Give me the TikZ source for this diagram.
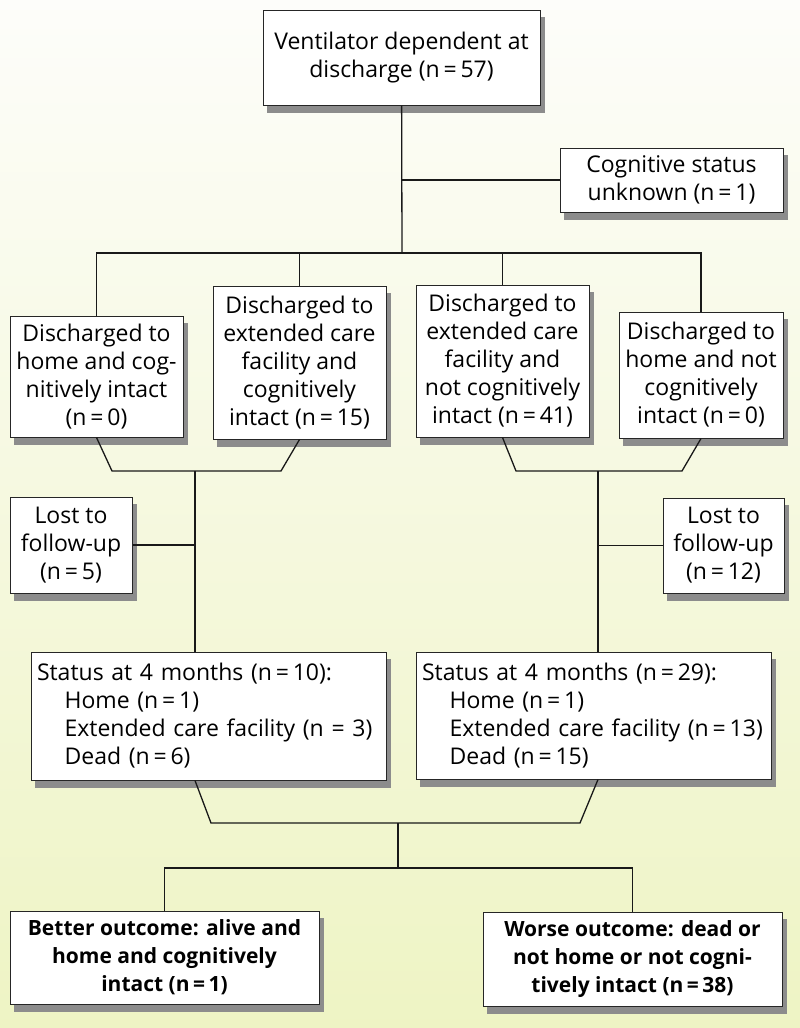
\documentclass[tikz,border=0pt]{standalone}
\usepackage{fontspec}
\setmainfont{Open Sans}
\usepackage{tikz}
\usetikzlibrary{calc}
\pgfdeclarelayer{bg}
\pgfdeclarelayer{shadow}
\pgfsetlayers{bg,shadow,main}
\definecolor{bgtop}{RGB}{253,253,250}
\definecolor{bgmid}{RGB}{248,250,230}
\definecolor{bgbot}{RGB}{238,244,196}
\tikzstyle{box}=[rectangle, draw=black!85, line width=1pt, fill=white, align=center,
  font=\fontsize{23}{28}\selectfont, inner sep=4pt]
\tikzstyle{listbox}=[box, align=left, inner sep=6pt]
\tikzstyle{endbox}=[box, font=\fontsize{21}{28}\selectfont\bfseries]
\tikzstyle{link}=[line width=1.3pt, black!90]
\tikzstyle{shadowfill}=[fill=black!45]

\begin{document}
\begin{tikzpicture}[x=1pt, y=-1pt]
                    \begin{pgfonlayer}{bg}
                        \shade[top color=bgtop, bottom color=bgbot] (0,0) rectangle (800,1028);
                    \end{pgfonlayer}
                    % boxes
                    \node[box, minimum width=277, minimum height=95]  (0)  at (401.5, 57.5) {Ventilator dependent at\\discharge (n\,=\,57)};
                    \node[box, minimum width=223, minimum height=64]  (u)  at (671.5, 180)  {Cognitive status\\unknown (n\,=\,1)};
                    \node[box, minimum width=173, minimum height=121] (11) at ( 96.5, 376.5) {Discharged to\\home and cog-\\nitively intact\\(n\,=\,0)};
                    \node[box, minimum width=173, minimum height=153] (12) at (299.5, 362.5) {Discharged to\\extended care\\facility and\\cognitively\\intact (n\,=\,15)};
                    \node[box, minimum width=173, minimum height=152] (13) at (502.5, 361)   {Discharged to\\extended care\\facility and\\not cognitively\\intact (n\,=\,41)};
                    \node[box, minimum width=164, minimum height=126] (14) at (701, 375)     {Discharged to\\home and not\\cognitively\\intact (n\,=\,0)};
                    \node[box, minimum width=122, minimum height=96]  (l1) at ( 71, 545)     {Lost to\\follow-up\\(n\,=\,5)};
                    \node[box, minimum width=121, minimum height=95]  (l2) at (723.5, 545.5) {Lost to\\follow-up\\(n\,=\,12)};
                    \node[listbox, text width=343, minimum height=128] (s1) at (208.5, 716) {Status at 4 months (n\,=\,10):\\
                        \hspace*{1.2em}Home (n\,=\,1)\\
                        \hspace*{1.2em}Extended care facility (n = 3)\\
                        \hspace*{1.2em}Dead (n\,=\,6)};
                    \node[listbox, text width=343, minimum height=127] (s2) at (593.5, 715.5) {Status at 4 months (n\,=\,29):\\
                        \hspace*{1.2em}Home (n\,=\,1)\\
                        \hspace*{1.2em}Extended care facility (n\,=\,13)\\
                        \hspace*{1.2em}Dead (n\,=\,15)};
                    \node[endbox, minimum width=309, minimum height=93] (b1) at (164.5, 957.5) {Better outcome: alive and\\home and cognitively\\intact (n\,=\,1)};
                    \node[endbox, minimum width=299, minimum height=94] (b2) at (632.5, 959)   {Worse outcome: dead or\\not home or not cogni-\\tively intact (n\,=\,38)};
                    % shadows
                    \begin{pgfonlayer}{shadow}
                        \foreach \n in {0,u,11,12,13,14,l1,l2,s1,s2,b1,b2}{
                            \fill[shadowfill] ($(\n.north west)+(4,7)$) rectangle ($(\n.south east)+(4,7)$);
                        }
                    \end{pgfonlayer}
                    % junctions
                    \coordinate (j1) at (402, 180);
                    \coordinate (j0) at (402, 253);
                    \coordinate (m1a) at (112, 471);
                    \coordinate (m1b) at (281, 471);
                    \coordinate (m1)  at (195, 471);
                    \coordinate (m2a) at (516, 471);
                    \coordinate (m2b) at (682, 471);
                    \coordinate (m2)  at (598, 471);
                    \coordinate (q1) at (211, 823);
                    \coordinate (q2) at (580, 823);
                    \coordinate (m3) at (398, 823);
                    \coordinate (j3) at (398, 868);
                    % connectors
                    \draw[link] (0) -- (j0);
                    \draw[link] (j1) -- (u);
                    \draw[link] (j0) -| (11);
                    \draw[link] (j0) -| (12);
                    \draw[link] (j0) -| (13);
                    \draw[link] (j0) -| (14);
                    \draw[link] (11.south) -- (m1a) -- (m1b) -- (12.south);
                    \draw[link] (13.south) -- (m2a) -- (m2b) -- (14.south);
                    \draw[link] (m1) -- (m1 |- s1.north);
                    \draw[link] (m2) -- (m2 |- s2.north);
                    \draw[link] (l1) -- (l1 -| m1);
                    \draw[link] (l2) -- (l2 -| m2);
                    \draw[link] (m1 |- s1.south) -- (q1) -- (q2) -- (m2 |- s2.south);
                    \draw[link] (m3) -- (j3);
                    \draw[link] (j3) -| (b1);
                    \draw[link] (j3) -| (b2);
                    \useasboundingbox (0,0) rectangle (800,1028);
                \end{tikzpicture}
\end{document}
